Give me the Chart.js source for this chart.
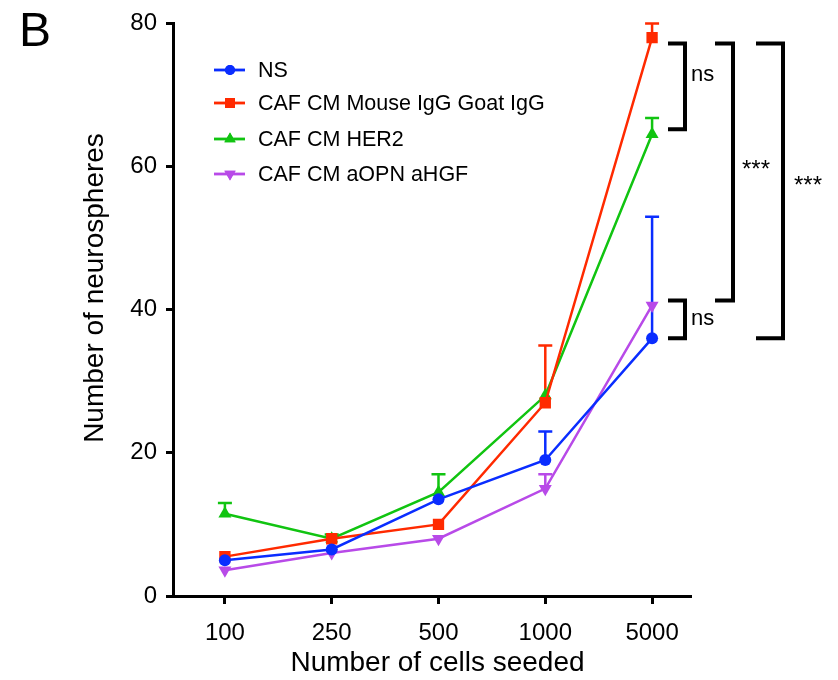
<!DOCTYPE html>
<html>
<head>
<meta charset="utf-8">
<script src="https://cdn.jsdelivr.net/npm/chart.js@4.4.1/dist/chart.umd.min.js"></script>
<style>
  html, body { margin: 0; padding: 0; background: #fff; }
  #wrap { width: 838px; height: 680px; position: relative; }
</style>
</head>
<body>
<div id="wrap"><canvas id="chart" width="838" height="680"></canvas></div>
<script>
const cellsSeeded = ['100', '250', '500', '1000', '5000'];
const seriesNames = ['NS', 'CAF CM Mouse IgG Goat IgG', 'CAF CM HER2', 'CAF CM aOPN aHGF'];

const nsMean = [5, 6.5, 13.5, 19, 36];
const nsUpper = [null, null, null, 23, 53];
const igMean = [5.5, 8, 10, 27, 78];
const igUpper = [null, null, null, 35, 80];
const her2Mean = [11.5, 8, 14.5, 28, 64.5];
const her2Upper = [13, 8.6, 17, null, 66.8];
const opnMean = [3.6, 6, 8, 15, 40.6];
const opnUpper = [null, null, null, 17, null];

const yTicks = [0, 20, 40, 60, 80];

// significance brackets (top value, bottom value, label, column)
const brackets = [
    { top: 77.2, bottom: 65.2, label: 'ns', col: 0 },
    { top: 41.3, bottom: 36, label: 'ns', col: 0 },
    { top: 77.2, bottom: 41.3, label: '***', col: 1 },
    { top: 77.2, bottom: 36, label: '***', col: 2 },
];

const colors = ['#0a2dff', '#ff2a00', '#11c411', '#b84ae8'];
const styles = ['circle', 'rect', 'triangle', 'triangle'];
const rotations = [0, 0, 0, 180];
const radii = [6, 8, 7.5, 7.5];
const means = [nsMean, igMean, her2Mean, opnMean];
const uppers = [nsUpper, igUpper, her2Upper, opnUpper];

const FONT = "'Liberation Sans', Arial, sans-serif";

const errorBars = {
    id: 'errorBars',
    beforeDatasetsDraw(chart) {
        const ctx = chart.ctx;
        const xs = chart.scales.x, ys = chart.scales.y;
        ctx.save();
        ctx.lineWidth = 2.5;
        uppers.forEach((arr, d) => {
            ctx.strokeStyle = colors[d];
            arr.forEach((u, i) => {
                if (u == null) return;
                const x = xs.getPixelForValue(i);
                const y0 = ys.getPixelForValue(means[d][i]);
                const y1 = ys.getPixelForValue(u);
                ctx.beginPath();
                ctx.moveTo(x, y0);
                ctx.lineTo(x, y1);
                ctx.moveTo(x - 7, y1);
                ctx.lineTo(x + 7, y1);
                ctx.stroke();
            });
        });
        ctx.restore();
    }
};

const extras = {
    id: 'extras',
    afterDraw(chart) {
        const ctx = chart.ctx;
        const ys = chart.scales.y;
        const area = chart.chartArea;
        ctx.save();
        ctx.fillStyle = '#000';
        ctx.textBaseline = 'middle';

        // panel letter
        ctx.font = '48px ' + FONT;
        ctx.textAlign = 'left';
        ctx.fillText('B', 19, 33);

        // axis titles
        ctx.font = '28px ' + FONT;
        ctx.textAlign = 'center';
        ctx.fillText('Number of cells seeded', (area.left + area.right) / 2 + 6, 663);
        ctx.save();
        ctx.translate(95, 288);
        ctx.rotate(-Math.PI / 2);
        ctx.fillText('Number of neurospheres', 0, 0);
        ctx.restore();

        // legend
        ctx.font = '21.5px ' + FONT;
        ctx.textAlign = 'left';
        const rows = [70, 103, 139, 174];
        seriesNames.forEach((name, d) => {
            const y = rows[d];
            ctx.strokeStyle = colors[d];
            ctx.lineWidth = 2.8;
            ctx.beginPath();
            ctx.moveTo(214, y);
            ctx.lineTo(245, y);
            ctx.stroke();
            ctx.fillStyle = colors[d];
            Chart.helpers.drawPoint(ctx, {
                pointStyle: styles[d], radius: radii[d] - 1, rotation: rotations[d], borderWidth: 0
            }, 230, y);
            ctx.fill();
            ctx.fillStyle = '#000';
            ctx.fillText(name, 258, y + 1);
        });

        // brackets
        const colX = [
            { x0: area.right - 22, x1: area.right - 5, tx: area.right + 1 },
            { x0: area.right + 25, x1: area.right + 43, tx: area.right + 52 },
            { x0: area.right + 66, x1: area.right + 93, tx: area.right + 104 },
        ];
        ctx.strokeStyle = '#000';
        ctx.lineWidth = 4;
        brackets.forEach(b => {
            const c = colX[b.col];
            const yt = ys.getPixelForValue(b.top);
            const yb = ys.getPixelForValue(b.bottom);
            ctx.beginPath();
            ctx.moveTo(c.x0, yt);
            ctx.lineTo(c.x1, yt);
            ctx.lineTo(c.x1, yb);
            ctx.lineTo(c.x0, yb);
            ctx.stroke();
            ctx.fillStyle = '#000';
            let ty = (yt + yb) / 2;
            if (b.col === 0 && b.top > 70) ty = yt + 31;
            if (b.col === 1) ty = yt + 122;
            if (b.col === 2) ty = yt + 138;
            if (b.label === 'ns') {
                ctx.font = '22px ' + FONT;
                ctx.fillText(b.label, c.tx, ty);
            } else {
                ctx.font = '24px ' + FONT;
                ctx.fillText(b.label, c.tx, ty + 5);
            }
        });
        ctx.restore();
    }
};

new Chart(document.getElementById('chart').getContext('2d'), {
    type: 'line',
    data: {
        datasets: means.map((m, d) => ({
            label: seriesNames[d],
            data: m.map((v, i) => ({ x: i, y: v })),
            borderColor: colors[d],
            backgroundColor: colors[d],
            borderWidth: 2.5,
            pointStyle: styles[d],
            pointRotation: rotations[d],
            pointRadius: radii[d],
            pointBorderWidth: 0,
            tension: 0,
        })),
    },
    options: {
        responsive: false,
        animation: false,
        layout: { padding: { left: 0, right: 148, top: 23, bottom: 0 } },
        scales: {
            x: {
                type: 'linear',
                min: -0.486,
                max: 4.355,
                afterBuildTicks: (scale) => {
                    scale.ticks = cellsSeeded.map((c, i) => ({ value: i }));
                },
                afterFit: (scale) => { scale.height = 84; },
                ticks: {
                    callback: (v) => cellsSeeded[v],
                    color: '#000',
                    font: { family: FONT, size: 24 },
                    padding: 15,
                    maxRotation: 0,
                    autoSkip: false,
                },
                grid: { display: true, drawOnChartArea: false, drawTicks: true, tickLength: 8, lineWidth: 3, color: '#000' },
                border: { display: true, width: 3, color: '#000' },
            },
            y: {
                min: 0,
                max: 80,
                afterBuildTicks: (scale) => {
                    scale.ticks = yTicks.map(v => ({ value: v }));
                },
                afterFit: (scale) => { scale.width = 173; },
                ticks: {
                    color: '#000',
                    font: { family: FONT, size: 24 },
                    padding: 9,
                },
                grid: { display: true, drawOnChartArea: false, drawTicks: true, tickLength: 7, lineWidth: 3, color: '#000' },
                border: { display: true, width: 3, color: '#000' },
            },
        },
        plugins: {
            legend: { display: false },
            tooltip: { enabled: false },
        },
    },
    plugins: [errorBars, extras],
});
</script>
</body>
</html>
